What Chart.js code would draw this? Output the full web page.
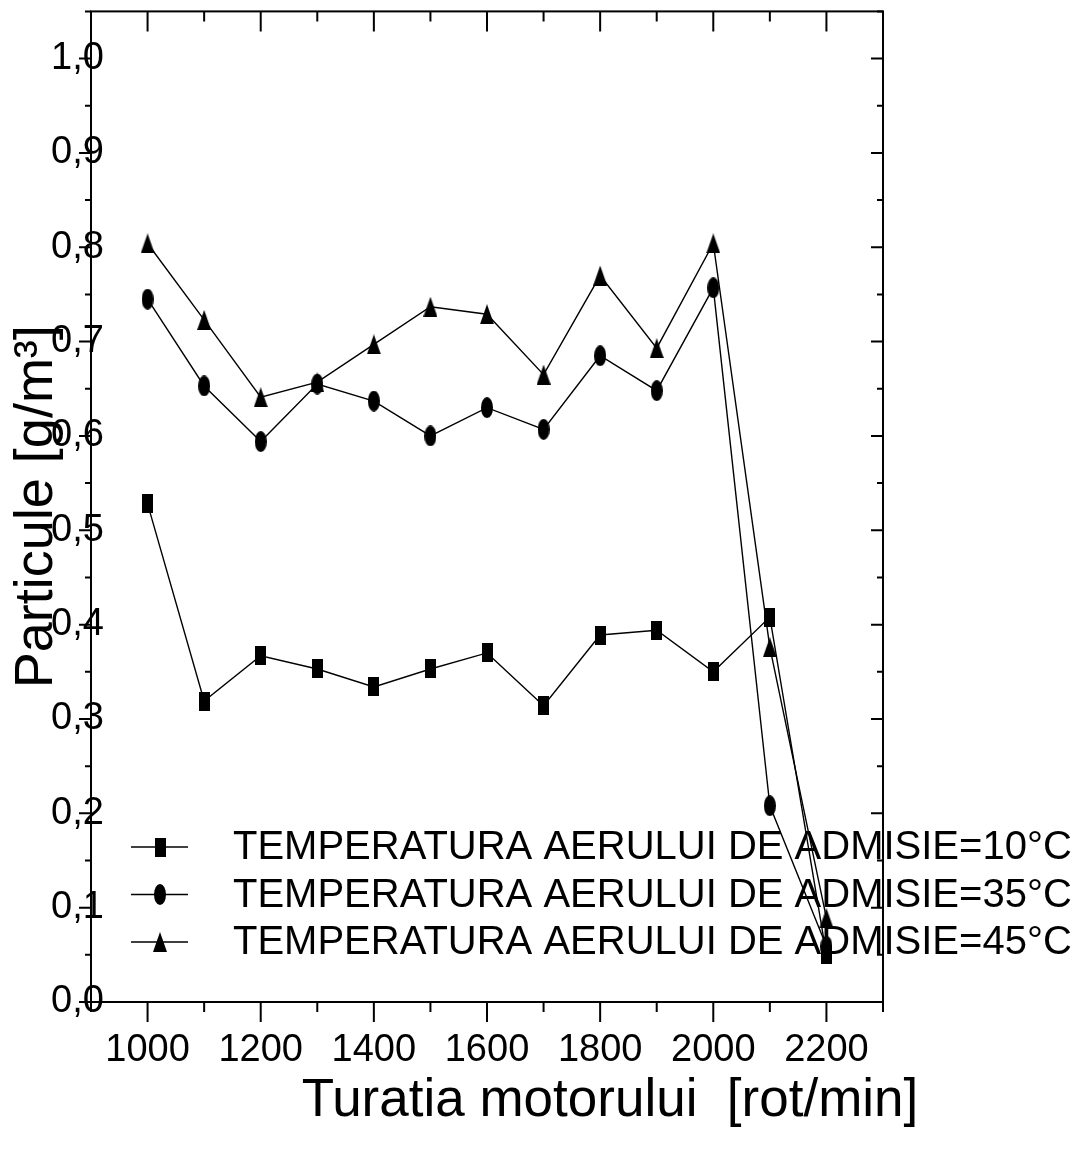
<!DOCTYPE html>
<html lang="ro">
<head>
<meta charset="UTF-8">
<title>Particule - turatia motorului</title>
<script src="https://cdn.jsdelivr.net/npm/chart.js"></script>
<style>
  html, body { margin: 0; padding: 0; background: #fff; }
  canvas { display: block; }
</style>
</head>
<body>
<canvas id="particleChart" width="1081" height="1150"></canvas>
<script>
  // engine speed [rot/min]
  const rpm = [1000, 1100, 1200, 1300, 1400, 1500, 1600, 1700, 1800, 1900, 2000, 2100, 2200];
  // particles [g/m3]
  const temp10 = [0.528, 0.319, 0.367, 0.353, 0.334, 0.353, 0.370, 0.314, 0.389, 0.394, 0.350, 0.408, 0.050];
  const temp35 = [0.745, 0.653, 0.594, 0.655, 0.637, 0.600, 0.630, 0.607, 0.685, 0.648, 0.757, 0.208, 0.059];
  const temp45 = [0.804, 0.723, 0.641, 0.657, 0.697, 0.737, 0.729, 0.665, 0.770, 0.693, 0.804, 0.376, 0.089];
  const seriesLabels = [
    'TEMPERATURA AERULUI DE ADMISIE=10°C',
    'TEMPERATURA AERULUI DE ADMISIE=35°C',
    'TEMPERATURA AERULUI DE ADMISIE=45°C'
  ];
  const xTickLabels = ['1000', '1200', '1400', '1600', '1800', '2000', '2200'];
  const yTickLabels = ['0,0', '0,1', '0,2', '0,3', '0,4', '0,5', '0,6', '0,7', '0,8', '0,9', '1,0'];
  const xTitle = 'Turatia motorului  [rot/min]';
  const yTitle = 'Particule [g/m³]';

  const FONT = "'Liberation Sans', Arial, sans-serif";
  Chart.defaults.font.family = FONT;
  Chart.defaults.color = '#000';

  // markers in the original are taller than wide
  function makeMarker(shape, w, h) {
    const c = document.createElement('canvas');
    c.width = w; c.height = h;
    const g = c.getContext('2d');
    g.fillStyle = '#000';
    g.beginPath();
    if (shape === 'rect') {
      g.rect(0, 0, w, h);
    } else if (shape === 'ellipse') {
      g.ellipse(w / 2, h / 2, w / 2, h / 2, 0, 0, Math.PI * 2);
    } else {
      g.moveTo(w / 2, 0);
      g.lineTo(w, h);
      g.lineTo(0, h);
      g.closePath();
    }
    g.fill();
    return c;
  }
  const markers = [makeMarker('rect', 11, 19), makeMarker('ellipse', 12, 21), makeMarker('triangle', 14, 20)];

  const isTenth = v => Math.abs(v * 10 - Math.round(v * 10)) < 1e-6;

  const framePlugin = {
    id: 'frame',
    afterDatasetsDraw(chart) {
      const { ctx, chartArea: a, scales: { x, y } } = chart;
      ctx.save();
      ctx.strokeStyle = '#000';
      ctx.lineWidth = 2;
      ctx.strokeRect(a.left, a.top, a.right - a.left, a.bottom - a.top);
      ctx.beginPath();
      x.ticks.forEach(t => {
        const px = x.getPixelForValue(t.value);
        const len = t.value % 200 === 0 ? 20 : 10;
        ctx.moveTo(px, a.bottom); ctx.lineTo(px, a.bottom + len);
        ctx.moveTo(px, a.top); ctx.lineTo(px, a.top + len);
      });
      y.ticks.forEach(t => {
        const py = y.getPixelForValue(t.value);
        const len = isTenth(t.value) ? 12 : 6;
        ctx.moveTo(a.left - len, py); ctx.lineTo(a.left, py);
        ctx.moveTo(a.right - len, py); ctx.lineTo(a.right, py);
      });
      ctx.stroke();
      ctx.restore();
    },
    afterDraw(chart) {
      const { ctx, chartArea: a } = chart;
      ctx.save();
      // legend, placed inside the plot like the original
      ctx.font = '40px ' + FONT;
      ctx.textBaseline = 'middle';
      ctx.textAlign = 'left';
      ctx.fillStyle = '#000';
      chart.data.datasets.forEach((ds, i) => {
        const rowY = a.bottom - 155 + i * 47.5;
        ctx.strokeStyle = '#000';
        ctx.lineWidth = 1.5;
        ctx.beginPath();
        ctx.moveTo(a.left + 40, rowY);
        ctx.lineTo(a.left + 97, rowY);
        ctx.stroke();
        const img = ds.pointStyle;
        ctx.drawImage(img, a.left + 69 - img.width / 2, rowY - img.height / 2);
        ctx.fillText(ds.label, a.left + 142, rowY + 1);
      });
      // x axis title sits right of centre in the original
      ctx.font = '53px ' + FONT;
      ctx.textAlign = 'center';
      ctx.fillText(xTitle, (a.left + a.right) / 2 + 123, a.bottom + 99);
      ctx.restore();
    }
  };

  const seriesData = [temp10, temp35, temp45];
  const datasets = seriesData.map((vals, i) => ({
    label: seriesLabels[i],
    data: rpm.map((r, j) => ({ x: r, y: vals[j] })),
    borderColor: '#000',
    backgroundColor: '#000',
    borderWidth: 1.4,
    pointStyle: markers[i],
    pointRadius: 10,
    pointHoverRadius: 10,
    tension: 0
  }));

  new Chart(document.getElementById('particleChart'), {
    type: 'line',
    data: { datasets },
    options: {
      responsive: false,
      animation: false,
      layout: { padding: { top: 11, right: 198, bottom: 0, left: 0 } },
      plugins: { legend: { display: false }, tooltip: { enabled: false } },
      scales: {
        x: {
          type: 'linear',
          min: 900,
          max: 2300,
          grid: { display: false, drawTicks: false },
          border: { display: false },
          ticks: {
            stepSize: 100,
            autoSkip: false,
            maxRotation: 0,
            padding: 26,
            font: { size: 38 },
            callback: v => xTickLabels.includes(String(v)) ? String(v) : ''
          },
          afterFit: s => { s.height = 148; }
        },
        y: {
          min: 0,
          max: 1.05,
          grid: { display: false, drawTicks: false },
          border: { display: false },
          title: { display: true, text: yTitle, font: { size: 54 }, padding: 5 },
          ticks: {
            stepSize: 0.05,
            autoSkip: false,
            mirror: true,
            crossAlign: 'near',
            padding: -40,
            font: { size: 38 },
            callback: v => isTenth(v) ? yTickLabels[Math.round(v * 10)] : ''
          },
          afterFit: s => { s.width = 91; }
        }
      }
    },
    plugins: [framePlugin]
  });
</script>
</body>
</html>
